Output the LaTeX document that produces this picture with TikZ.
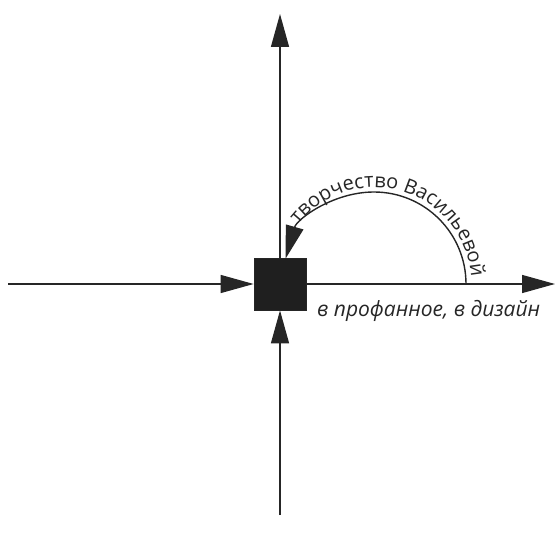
\documentclass[tikz,border=0pt]{standalone}
\usepackage{fontspec}
\setmainfont{Open Sans}
\usetikzlibrary{arrows.meta,decorations.text}
\tikzset{
  conn/.style={draw=black!85, line width=1.4pt, -{Triangle[length=33pt,width=18pt]}},
  hub/.style={draw=black!85, fill=black!88, minimum size=52pt, inner sep=0pt, line width=0.8pt},
  lbl/.style={font=\fontsize{21}{24}\selectfont\itshape, text=black!85, inner sep=0pt, anchor=base west}
}
\begin{document}
\begin{tikzpicture}[x=1pt,y=1pt]
\useasboundingbox (0,0) rectangle (556,541);
\node[hub] (sq) at (280,257) {};
\coordinate (top) at (280,527);
\coordinate (left) at (8,257);
\coordinate (right) at (555,257);
\coordinate (bot) at (280,26);
\coordinate (arcstart) at (466,257);
\draw[conn] (sq.north) -- (top);
\draw[conn] (left) -- (sq.west);
\draw[conn] (sq.east) -- (right);
\draw[conn] (bot) -- (sq.south);
\draw[conn] (arcstart) arc[start angle=0, end angle=164, radius=92];
\path[decorate, decoration={text along path, text align=center,
  text={|\fontsize{20}{24}\selectfont\color{black!85}|творчество Васильевой}}]
  (293.9,311.0) arc[start angle=146, end angle=0, radius=97];
\node[lbl] (txt) at (317,224) {в профанное, в дизайн};
\end{tikzpicture}
\end{document}
